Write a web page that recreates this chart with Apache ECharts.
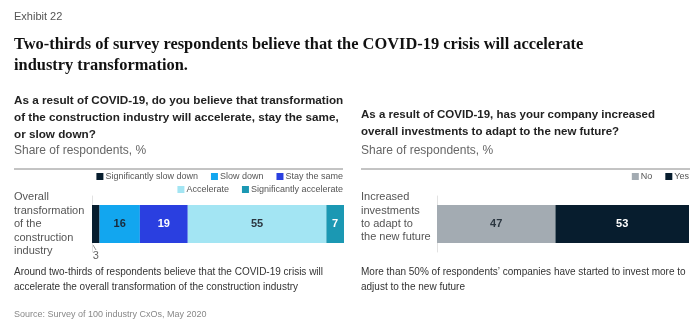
<!DOCTYPE html>
<html><head><meta charset="utf-8">
<script src="https://cdn.jsdelivr.net/npm/echarts@6/dist/echarts.min.js"></script>
<style>html,body{margin:0;padding:0;background:#fff}#c{width:699px;height:325px}</style>
</head><body><div id="c"></div>
<script>
// ---- data ----
const leftCategories = ['Overall\ntransformation\nof the\nconstruction\nindustry'];
const leftSeriesNames = ['Significantly slow down', 'Slow down', 'Stay the same', 'Accelerate', 'Significantly accelerate'];
const leftValues = [3, 16, 19, 55, 7];
const rightCategories = ['Increased\ninvestments\nto adapt to\nthe new future'];
const rightSeriesNames = ['No', 'Yes'];
const rightValues = [47, 53];

// ---- styles ----
const leftColors = ['#071d2e', '#12a6ef', '#2a3fe0', '#a3e5f3', '#1b98b3'];
const leftLabelColors = ['#666', '#1a2a3a', '#ffffff', '#2b3640', '#ffffff'];
const rightColors = ['#a3abb2', '#071d2e'];
const rightLabelColors = ['#2b3640', '#ffffff'];
const SANS = '"Liberation Sans", Arial, sans-serif';
const SERIF = '"Liberation Serif", "DejaVu Serif", serif';

const chart = echarts.init(document.getElementById('c'), null, {renderer: 'canvas'});

function txt(text, x, y, font, fill) {
  return {type: 'text', left: x, top: y, style: {text: text, font: font, fill: fill}, silent: true};
}

const series = [];
leftSeriesNames.forEach((n, i) => {
  series.push({
    name: n, type: 'bar', stack: 'L', xAxisIndex: 0, yAxisIndex: 0, barWidth: 38,
    data: [leftValues[i]],
    itemStyle: {color: leftColors[i]},
    label: i === 0 ? {show: true, position: 'bottom', distance: 7, color: '#666', fontFamily: SANS, fontSize: 11}
                   : {show: true, position: 'inside', color: leftLabelColors[i], fontFamily: SANS, fontSize: 11, fontWeight: 'bold'}
  });
});
rightSeriesNames.forEach((n, i) => {
  series.push({
    name: n, type: 'bar', stack: 'R', xAxisIndex: 1, yAxisIndex: 1, barWidth: 38,
    data: [rightValues[i]],
    itemStyle: {color: rightColors[i]},
    label: {show: true, position: 'inside', color: rightLabelColors[i], fontFamily: SANS, fontSize: 11, fontWeight: 'bold'}
  });
});

const legendBase = {orient: 'horizontal', icon: 'rect', itemWidth: 7, itemHeight: 7, itemGap: 13, padding: 0,
  textStyle: {color: '#555', fontFamily: SANS, fontSize: 9, padding: [0, 0, 0, -3]}, selectedMode: false};

chart.setOption({
  animation: false,
  grid: [
    {left: 92, width: 252, top: 196, height: 56},
    {left: 437, width: 252, top: 196, height: 56}
  ],
  xAxis: [
    {gridIndex: 0, type: 'value', min: 0, max: 100, show: false},
    {gridIndex: 1, type: 'value', min: 0, max: 100, show: false}
  ],
  yAxis: [
    {gridIndex: 0, type: 'category', data: leftCategories,
     axisLine: {show: true, lineStyle: {color: '#e2e2e2'}}, axisTick: {show: false},
     axisLabel: {align: 'left', margin: 78, color: '#555', fontFamily: SANS, fontSize: 11, lineHeight: 13.5}},
    {gridIndex: 1, type: 'category', data: rightCategories,
     axisLine: {show: true, lineStyle: {color: '#e2e2e2'}}, axisTick: {show: false},
     axisLabel: {align: 'left', margin: 76, color: '#555', fontFamily: SANS, fontSize: 11, lineHeight: 13.3,
                 formatter: v => v + '\n '}}
  ],
  legend: [
    Object.assign({}, legendBase, {data: leftSeriesNames.slice(0, 3), right: 356, top: 172}),
    Object.assign({}, legendBase, {data: leftSeriesNames.slice(3), right: 356, top: 185}),
    Object.assign({}, legendBase, {data: rightSeriesNames, right: 10, top: 172})
  ],
  series: series,
  graphic: [
    txt('Exhibit 22', 14, 11, '11px ' + SANS, '#555'),
    txt('Two-thirds of survey respondents believe that the COVID-19 crisis will accelerate', 14, 37, 'bold 16.4px ' + SERIF, '#111'),
    txt('industry transformation.', 14, 58, 'bold 16.4px ' + SERIF, '#111'),
    txt('As a result of COVID-19, do you believe that transformation', 14, 95, 'bold 11.7px ' + SANS, '#222'),
    txt('of the construction industry will accelerate, stay the same,', 14, 112, 'bold 11.7px ' + SANS, '#222'),
    txt('or slow down?', 14, 129, 'bold 11.7px ' + SANS, '#222'),
    txt('Share of respondents, %', 14, 145, '12px ' + SANS, '#666'),
    txt('As a result of COVID-19, has your company increased', 361, 109, 'bold 11.5px ' + SANS, '#222'),
    txt('overall investments to adapt to the new future?', 361, 126, 'bold 11.5px ' + SANS, '#222'),
    txt('Share of respondents, %', 361, 145, '12px ' + SANS, '#666'),
    {type: 'line', shape: {x1: 14, y1: 169, x2: 343, y2: 169}, style: {stroke: '#888', lineWidth: 1}, silent: true},
    {type: 'line', shape: {x1: 361, y1: 169, x2: 690, y2: 169}, style: {stroke: '#888', lineWidth: 1}, silent: true},
    {type: 'line', shape: {x1: 93, y1: 245, x2: 96, y2: 250}, style: {stroke: '#999', lineWidth: 1}, silent: true},
    txt('Around two-thirds of respondents believe that the COVID-19 crisis will', 14, 267, '10px ' + SANS, '#333'),
    txt('accelerate the overall transformation of the construction industry', 14, 282, '10px ' + SANS, '#333'),
    txt('More than 50% of respondents\u2019 companies have started to invest more to', 361, 267, '10px ' + SANS, '#333'),
    txt('adjust to the new future', 361, 282, '10px ' + SANS, '#333'),
    txt('Source: Survey of 100 industry CxOs, May 2020', 14, 310, '9px ' + SANS, '#888')
  ]
});
</script></body></html>
